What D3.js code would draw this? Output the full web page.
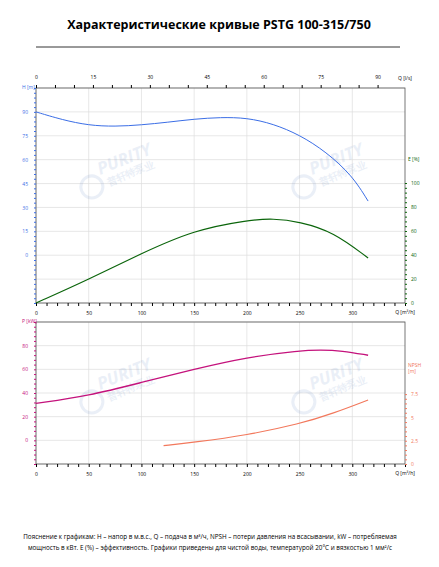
<!DOCTYPE html>
<html><head><meta charset="utf-8">
<script src="https://cdn.jsdelivr.net/npm/d3@7"></script>
<style>body{margin:0;background:#fff}text{font-family:"Open Sans",sans-serif}</style>
</head><body><svg id="c" width="439" height="567"></svg>
<script>
// curve data (Q in m3/h)
var qH = [0, 25, 50, 75, 100, 125, 150, 175, 200, 225, 250, 275, 300, 315];
var hVal = [90, 85, 81.5, 80.8, 81.8, 83.5, 85.5, 86.6, 86.3, 82.5, 75.6, 65, 50, 34];
var qE = [0, 50, 100, 150, 200, 225, 250, 282, 315];
var eVal = [0, 19.7, 41.4, 60.8, 69, 70.5, 67.8, 59.4, 37.5];
var qP = [0, 50, 100, 150, 200, 250, 270, 290, 315];
var pVal = [31.2, 37.6, 48.9, 60.1, 70.2, 75.8, 76.4, 75.8, 71.9];
var qN = [121, 150, 200, 250, 282, 315];
var nVal = [1.97, 2.33, 3.1, 4.29, 5.44, 6.87];
var qTicks = [0, 50, 100, 150, 200, 250, 300];
var lsTicks = [0, 15, 30, 45, 60, 75, 90];
var hTicks = [0, 15, 30, 45, 60, 75, 90];
var eTicks = [0, 20, 40, 60, 80, 100];
var pTicks = [0, 20, 40, 60, 80];
var nTicks = [0, 2.5, 5, 7.5];

var cH = "#3b6ee6", cE = "#0b650b", cP = "#c4127c", cN = "#f2785c", grid = "#dcdcdc";
var svg = d3.select("#c");

svg.append("text").attr("x", 219).attr("y", 29).attr("text-anchor", "middle")
  .attr("font-size", 12.5).attr("font-weight", "bold").text("Характеристические кривые PSTG 100-315/750");
svg.append("line").attr("x1", 36).attr("x2", 400).attr("y1", 47).attr("y2", 47).attr("stroke", "#000").attr("stroke-width", 0.8);

var x = d3.scaleLinear().domain([0, 350]).range([36, 405]);
var xls = d3.scaleLinear().domain([0, 350 / 3.6]).range([36, 405]);

function panel(top, bottom, yL, yR, tL, tR, colL, colR, labL, labR, labRy) {
  var g = svg.append("g");
  qTicks.forEach(function (q) {
    g.append("line").attr("x1", x(q)).attr("x2", x(q)).attr("y1", top).attr("y2", bottom).attr("stroke", grid).attr("stroke-width", 0.7);
  });
  var gl = d3.range(yL.domain()[0], yL.domain()[1] + 0.1, tL[1] - tL[0]);
  gl.forEach(function (v) {
    g.append("line").attr("x1", 36).attr("x2", 405).attr("y1", yL(v)).attr("y2", yL(v)).attr("stroke", grid).attr("stroke-width", 0.7);
  });
  g.append("rect").attr("x", 36).attr("y", top).attr("width", 369).attr("height", bottom - top)
    .attr("fill", "none").attr("stroke", "#555").attr("stroke-width", 0.8);
  var ax = g.append("g").attr("transform", "translate(0," + bottom + ")")
    .call(d3.axisBottom(x).tickValues(d3.range(0, 351, 10)).tickSize(3).tickFormat(function (d) { return qTicks.indexOf(d) >= 0 ? d : ""; }));
  ax.selectAll("text").attr("font-size", 5).attr("dy", 6);
  ax.select(".domain").remove();
  g.append("text").attr("x", 405).attr("y", bottom + 11).attr("text-anchor", "middle").attr("font-size", 5).text("Q [m³/h]");
  var al = g.append("g").attr("transform", "translate(36,0)")
    .call(d3.axisLeft(yL).tickValues(d3.range(yL.domain()[0], yL.domain()[1] + 0.1, (tL[1] - tL[0]) / 5)).tickSize(2)
      .tickFormat(function (d) { return tL.indexOf(d) >= 0 ? d : ""; }));
  al.selectAll("text").attr("font-size", 5).attr("fill", colL).attr("x", -8);
  al.selectAll("line").attr("stroke", colL);
  al.select(".domain").remove();
  var ar = g.append("g").attr("transform", "translate(405,0)")
    .call(d3.axisRight(yR).tickValues(d3.range(0, tR[tR.length - 1] + 0.01, (tR[1] - tR[0]) / 5)).tickSize(2)
      .tickFormat(function (d) { return tR.indexOf(d) >= 0 ? d : ""; }));
  ar.selectAll("text").attr("font-size", 5).attr("fill", colR).attr("x", 6);
  ar.selectAll("line").attr("stroke", colR);
  ar.select(".domain").remove();
  g.append("text").attr("x", 22).attr("y", top + 1).attr("font-size", 5).attr("fill", colL).text(labL);
  labR.forEach(function (t, i) {
    g.append("text").attr("x", 408).attr("y", labRy + i * 6).attr("font-size", 5).attr("fill", colR).text(t);
  });
  return g;
}

function watermark(cx, cy) {
  var w = svg.append("g").attr("transform", "translate(" + cx + "," + cy + ") rotate(-22)").attr("opacity", 0.12).attr("fill", "#5a7fc0");
  w.append("text").attr("font-size", 17).attr("font-weight", "bold").attr("font-style", "italic").text("PURITY");
  w.append("text").attr("y", 13).attr("x", 4).attr("font-size", 10).attr("font-weight", "bold").text("普轩特泵业");
  w.append("circle").attr("cx", -12).attr("cy", 8).attr("r", 11).attr("fill", "none").attr("stroke", "#5a7fc0").attr("stroke-width", 3);
}

// top panel
var yH = d3.scaleLinear().domain([-30, 105]).range([303, 88]);
var yE = d3.scaleLinear().domain([0, 179.2]).range([303, 88]);
var g1 = panel(88, 303, yH, yE, hTicks, eTicks, cH, cE, "H [m]", ["E [%]"], 161);
var at = g1.append("g").attr("transform", "translate(0,88)")
  .call(d3.axisTop(xls).tickValues(d3.range(0, 91, 5)).tickSize(3).tickFormat(function (d) { return lsTicks.indexOf(d) >= 0 ? d : ""; }));
at.selectAll("text").attr("font-size", 5).attr("dy", -3);
at.select(".domain").remove();
svg.append("text").attr("x", 405).attr("y", 80).attr("text-anchor", "middle").attr("font-size", 5).text("Q [l/s]");
watermark(100, 175);
watermark(312, 175);

var line = function (ys) { return d3.line().x(function (d) { return x(d[0]); }).y(function (d) { return ys(d[1]); }).curve(d3.curveBasis); };
svg.append("path").datum(d3.zip(qH, hVal)).attr("d", line(yH)).attr("fill", "none").attr("stroke", cH).attr("stroke-width", 1);
svg.append("path").datum(d3.zip(qE, eVal)).attr("d", line(yE)).attr("fill", "none").attr("stroke", cE).attr("stroke-width", 1.2);

// bottom panel
var yP = d3.scaleLinear().domain([-20, 100]).range([464, 322]);
var yN = d3.scaleLinear().domain([0, 15.24]).range([464, 322]);
panel(322, 464, yP, yN, pTicks, nTicks, cP, cN, "P [kW]", ["NPSH", "[m]"], 367);
watermark(100, 390);
watermark(312, 390);
svg.append("path").datum(d3.zip(qP, pVal)).attr("d", line(yP)).attr("fill", "none").attr("stroke", cP).attr("stroke-width", 1.3);
svg.append("path").datum(d3.zip(qN, nVal)).attr("d", line(yN)).attr("fill", "none").attr("stroke", cN).attr("stroke-width", 1.1);

// footnote
var fn = svg.append("text").attr("font-size", 6.3).attr("text-anchor", "middle");
fn.append("tspan").attr("x", 210).attr("y", 539).text("Пояснение к графикам: H – напор в м.в.с., Q – подача в м³/ч, NPSH – потери давления на всасывании, kW – потребляемая");
fn.append("tspan").attr("x", 210).attr("y", 550).text("мощность в кВт. E (%) – эффективность.  Графики приведены для чистой воды, температурой 20°C и вязкостью 1 мм²/с");
</script></body></html>
